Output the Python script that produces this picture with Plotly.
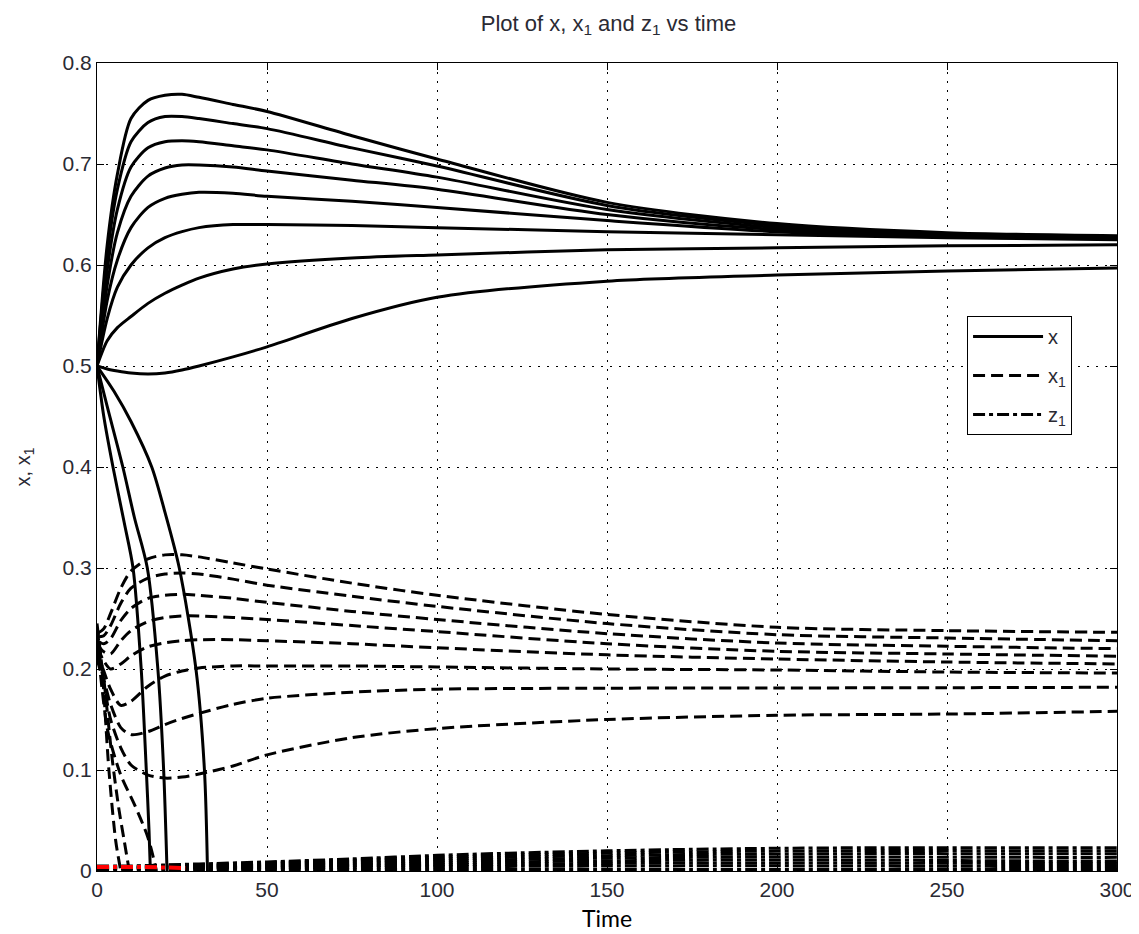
import plotly.graph_objects as go

# ---------------- data ----------------
# x (solid) - eight curves that rise/settle, common time grid
t_x = [0, 3, 6, 10, 15, 20, 25, 30, 40, 50, 75, 100, 150, 200, 250, 300]
x_a = [0.5, 0.62, 0.69, 0.745, 0.763, 0.768, 0.769, 0.766, 0.759, 0.752, 0.728, 0.705, 0.662, 0.641, 0.632, 0.629]
x_b = [0.5, 0.61, 0.675, 0.722, 0.741, 0.747, 0.747, 0.745, 0.740, 0.735, 0.716, 0.698, 0.659, 0.639, 0.631, 0.628]
x_c = [0.5, 0.595, 0.655, 0.697, 0.716, 0.722, 0.723, 0.722, 0.718, 0.714, 0.700, 0.687, 0.655, 0.637, 0.630, 0.627]
x_d = [0.5, 0.58, 0.632, 0.668, 0.688, 0.696, 0.699, 0.699, 0.697, 0.693, 0.684, 0.675, 0.650, 0.635, 0.629, 0.626]
x_e = [0.5, 0.565, 0.605, 0.637, 0.657, 0.666, 0.670, 0.672, 0.671, 0.668, 0.663, 0.657, 0.644, 0.633, 0.628, 0.626]
x_f = [0.5, 0.547, 0.578, 0.600, 0.617, 0.627, 0.633, 0.637, 0.640, 0.640, 0.639, 0.637, 0.633, 0.630, 0.627, 0.625]
x_g = [0.5, 0.525, 0.538, 0.549, 0.562, 0.572, 0.580, 0.587, 0.596, 0.601, 0.607, 0.610, 0.615, 0.617, 0.619, 0.620]
x_h = [0.5, 0.497, 0.495, 0.493, 0.492, 0.493, 0.496, 0.500, 0.509, 0.519, 0.547, 0.568, 0.584, 0.590, 0.594, 0.597]
x_up = [x_a, x_b, x_c, x_d, x_e, x_f, x_g, x_h]

# x (solid) - three curves that collapse to zero
t_xd1 = [0, 2, 4.7, 8, 10.6, 13, 14.5, 15.3, 15.7]
v_xd1 = [0.5, 0.45, 0.4, 0.345, 0.3, 0.2, 0.1, 0.04, 0.0]
t_xd2 = [0, 3, 7.6, 11, 14.8, 17.9, 19.6, 20.6]
v_xd2 = [0.5, 0.46, 0.4, 0.35, 0.3, 0.2, 0.1, 0.0]
t_xd3 = [0, 5, 10, 16.1, 20, 24.2, 29.1, 31.6, 32.5]
v_xd3 = [0.5, 0.475, 0.445, 0.4, 0.355, 0.3, 0.2, 0.1, 0.0]

# x1 (dashed) - eight curves
t_x1 = [0, 2, 4, 7, 10, 15, 20, 25, 30, 40, 50, 75, 100, 150, 200, 250, 300]
x1_a = [0.235, 0.24, 0.255, 0.28, 0.297, 0.309, 0.313, 0.313, 0.311, 0.305, 0.299, 0.285, 0.273, 0.254, 0.2413, 0.238, 0.2363]
x1_b = [0.232, 0.233, 0.243, 0.265, 0.280, 0.290, 0.294, 0.295, 0.294, 0.289, 0.283, 0.272, 0.262, 0.245, 0.234, 0.2307, 0.228]
x1_c = [0.228, 0.225, 0.230, 0.248, 0.260, 0.270, 0.273, 0.274, 0.273, 0.270, 0.266, 0.257, 0.249, 0.235, 0.2257, 0.2225, 0.2201]
x1_d = [0.225, 0.217, 0.215, 0.228, 0.238, 0.247, 0.251, 0.2525, 0.2525, 0.251, 0.249, 0.243, 0.237, 0.225, 0.2175, 0.2149, 0.2126]
x1_e = [0.222, 0.208, 0.200, 0.205, 0.213, 0.222, 0.226, 0.228, 0.229, 0.229, 0.228, 0.225, 0.221, 0.214, 0.2099, 0.2069, 0.205]
x1_f = [0.218, 0.198, 0.180, 0.164, 0.168, 0.183, 0.193, 0.198, 0.201, 0.203, 0.203, 0.203, 0.202, 0.200, 0.199, 0.197, 0.196]
x1_g = [0.215, 0.190, 0.165, 0.142, 0.135, 0.138, 0.145, 0.151, 0.156, 0.165, 0.171, 0.177, 0.180, 0.181, 0.1812, 0.1815, 0.1819]
x1_h = [0.210, 0.185, 0.150, 0.122, 0.105, 0.095, 0.092, 0.093, 0.096, 0.104, 0.115, 0.132, 0.141, 0.150, 0.1542, 0.1554, 0.1581]
x1_up = [x1_a, x1_b, x1_c, x1_d, x1_e, x1_f, x1_g, x1_h]

# x1 (dashed) - three curves that collapse to zero
t_x1d1 = [0, 1.5, 3.5, 5.5, 7]
v_x1d1 = [0.245, 0.2, 0.1, 0.03, 0.0]
t_x1d2 = [0, 2, 4.5, 6.5, 8, 9.5]
v_x1d2 = [0.24, 0.19, 0.11, 0.06, 0.03, 0.0]
t_x1d3 = [0, 1.5, 3.2, 7, 11, 15, 17.5]
v_x1d3 = [0.23, 0.18, 0.138, 0.095, 0.066, 0.033, 0.0]

# z1 (dash-dot) - small values near zero
t_z1 = [0, 10, 20, 30, 50, 75, 100, 125, 150, 175, 200, 225, 250, 275, 300]
z1_a = [0.005, 0.005, 0.006, 0.007, 0.009, 0.012, 0.0155, 0.018, 0.020, 0.0215, 0.0225, 0.023, 0.023, 0.023, 0.023]
z1_b = [0.0045, 0.0045, 0.0055, 0.0063, 0.008, 0.0108, 0.0137, 0.016, 0.0177, 0.019, 0.0197, 0.0202, 0.0202, 0.020, 0.020]
z1_c = [0.004, 0.004, 0.005, 0.0056, 0.007, 0.0094, 0.0118, 0.0138, 0.0152, 0.0163, 0.0168, 0.0172, 0.0172, 0.017, 0.017]
z1_d = [0.0035, 0.0035, 0.0045, 0.005, 0.006, 0.008, 0.0099, 0.0115, 0.0127, 0.0135, 0.0139, 0.0139, 0.0137, 0.0135, 0.0135]
z1_e = [0.003, 0.003, 0.004, 0.0043, 0.005, 0.0066, 0.008, 0.0092, 0.0101, 0.0107, 0.0109, 0.0107, 0.0104, 0.010, 0.010]
z1_f = [0.0025, 0.0025, 0.0035, 0.0037, 0.004, 0.0052, 0.0061, 0.0069, 0.0075, 0.0079, 0.008, 0.0078, 0.0076, 0.0075, 0.0075]
z1_g = [0.002, 0.002, 0.003, 0.003, 0.003, 0.0038, 0.0042, 0.0046, 0.0049, 0.0051, 0.0051, 0.0049, 0.0047, 0.0045, 0.0045]
z1_h = [0.0015, 0.0015, 0.0015, 0.0015, 0.0015, 0.0015, 0.0015, 0.0015, 0.0015, 0.0015, 0.0015, 0.0015, 0.0015, 0.0015, 0.0015]
z1_all = [z1_a, z1_b, z1_c, z1_d, z1_e, z1_f, z1_g, z1_h]

# short red dash-dot trace at the bottom left
t_red = [0, 12, 26]
v_red = [0.004, 0.004, 0.003]

x_ticks = [0, 50, 100, 150, 200, 250, 300]
y_ticks = [0, 0.1, 0.2, 0.3, 0.4, 0.5, 0.6, 0.7, 0.8]
y_tick_text = ["0", "0.1", "0.2", "0.3", "0.4", "0.5", "0.6", "0.7", "0.8"]

# ---------------- figure ----------------
LW = 3
solid = dict(color="black", width=LW, shape="spline", smoothing=0.8)
dashed = dict(color="black", width=LW, shape="spline", smoothing=0.8, dash="12px,6px")
dashdot = dict(color="black", width=LW, shape="spline", smoothing=0.8, dash="12px,4px,4px,4px")

fig = go.Figure()

first = True
for ys in x_up:
    fig.add_trace(go.Scatter(x=t_x, y=ys, mode="lines", line=solid, name="x",
                             legendgroup="x", showlegend=first, hoverinfo="skip"))
    first = False
for tt, vv in [(t_xd1, v_xd1), (t_xd2, v_xd2), (t_xd3, v_xd3)]:
    fig.add_trace(go.Scatter(x=tt, y=vv, mode="lines", line=solid, name="x",
                             legendgroup="x", showlegend=False, hoverinfo="skip"))

first = True
for ys in x1_up:
    fig.add_trace(go.Scatter(x=t_x1, y=ys, mode="lines", line=dashed, name="x<sub>1</sub>",
                             legendgroup="x1", showlegend=first, hoverinfo="skip"))
    first = False
for tt, vv in [(t_x1d1, v_x1d1), (t_x1d2, v_x1d2), (t_x1d3, v_x1d3)]:
    fig.add_trace(go.Scatter(x=tt, y=vv, mode="lines", line=dashed, name="x<sub>1</sub>",
                             legendgroup="x1", showlegend=False, hoverinfo="skip"))

first = True
for ys in z1_all:
    fig.add_trace(go.Scatter(x=t_z1, y=ys, mode="lines", line=dashdot, name="z<sub>1</sub>",
                             legendgroup="z1", showlegend=first, hoverinfo="skip"))
    first = False
fig.add_trace(go.Scatter(x=t_red, y=v_red, mode="lines",
                         line=dict(color="red", width=4, dash="12px,4px,4px,4px"),
                         showlegend=False, hoverinfo="skip"))

FONT = "Liberation Sans, Arial, sans-serif"
axis_common = dict(
    showline=True, linecolor="black", linewidth=1, mirror="ticks",
    ticks="inside", ticklen=7, tickcolor="black",
    showgrid=True, gridcolor="black", gridwidth=1, griddash="2px,7px",
    zeroline=False,
    tickfont=dict(family=FONT, size=21, color="#2a2a33"),
)

fig.update_xaxes(range=[0, 300], tickvals=x_ticks, ticktext=[str(v) for v in x_ticks],
                 title=dict(text="Time", font=dict(family="Lato, sans-serif", size=23, color="black"),
                            standoff=10),
                 **axis_common)
fig.update_yaxes(range=[0, 0.8], tickvals=y_ticks, ticktext=y_tick_text,
                 title=dict(text="x, x<sub>1</sub>", font=dict(family=FONT, size=20, color="#2a2a33"),
                            standoff=26),
                 **axis_common)

fig.update_layout(
    width=1139, height=934,
    margin=dict(l=89, r=27, t=55, b=71),
    plot_bgcolor="white", paper_bgcolor="white",
    title=dict(text="Plot of x, x<sub>1</sub> and z<sub>1</sub> vs time",
               x=(89 + 1112) / 2 / 1139, xanchor="center", y=0.992, yanchor="top",
               font=dict(family=FONT, size=22, color="#2a2a33")),
    legend=dict(x=0.853, y=0.687, xanchor="left", yanchor="top",
                bordercolor="black", borderwidth=1, bgcolor="white",
                font=dict(family=FONT, size=20, color="#2a2a33"),
                itemwidth=70, tracegroupgap=10, traceorder="grouped"),
    showlegend=True,
)

fig.write_html("out.html")
